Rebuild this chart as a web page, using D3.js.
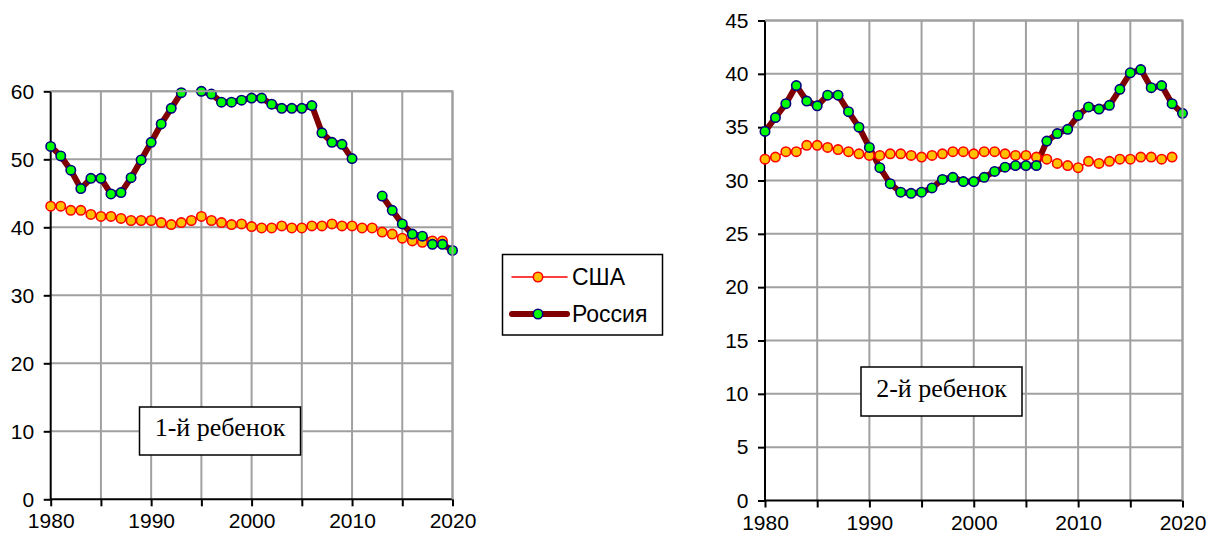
<!DOCTYPE html>
<html><head><meta charset="utf-8">
<script src="https://cdn.jsdelivr.net/npm/d3@7"></script>
<style>body{margin:0;background:#fff;}svg{display:block;}</style>
</head><body>
<svg id="c" width="1221" height="540"></svg>
<script>
const years = d3.range(1980, 2021);
// 1st child (left chart)
const usa1 = [43.1,43.1,42.5,42.5,41.9,41.6,41.6,41.3,41.0,41.0,41.0,40.7,40.4,40.7,41.0,41.6,41.0,40.7,40.4,40.5,40.1,39.9,39.9,40.2,39.9,39.9,40.2,40.2,40.5,40.2,40.2,39.9,39.9,39.3,39.0,38.4,38.0,37.8,38.0,38.0,null];
const rus1 = [51.9,50.5,48.4,45.7,47.2,47.2,44.9,45.1,47.3,49.9,52.5,55.2,57.5,59.8,61.0,60.0,59.6,58.4,58.4,58.7,59.0,59.0,58.1,57.5,57.5,57.5,57.9,53.9,52.5,52.2,50.1,null,null,44.6,42.5,40.5,39.0,38.7,37.5,37.5,36.6];
// 2nd child (right chart)
const usa2 = [32.0,32.2,32.7,32.7,33.3,33.3,33.1,32.9,32.7,32.5,32.35,32.35,32.5,32.5,32.35,32.2,32.35,32.5,32.7,32.7,32.5,32.7,32.7,32.5,32.35,32.35,32.2,32.0,31.6,31.4,31.2,31.8,31.6,31.8,32.0,32.0,32.2,32.2,32.0,32.2,null];
const rus2 = [34.6,35.9,37.2,38.9,37.45,37.0,38.0,38.0,36.45,35.0,33.1,31.2,29.7,28.9,28.8,28.9,29.3,30.1,30.3,29.9,29.9,30.3,30.85,31.25,31.4,31.4,31.4,33.7,34.4,34.8,36.1,36.9,36.7,37.05,38.55,40.1,40.4,38.7,38.9,37.2,36.3];
const yTicks1 = [0,10,20,30,40,50,60];
const yTicks2 = [0,5,10,15,20,25,30,35,40,45];
const xTicks = [1980,1985,1990,1995,2000,2005,2010,2015,2020];
const xLabels = [1980,1990,2000,2010,2020];
const seriesNames = ["США","Россия"];
const boxLabels = ["1-й ребенок","2-й ребенок"];

const svg = d3.select("#c");
const FONT = "Liberation Sans, Arial, sans-serif";
const SERIF = "Liberation Serif, Times New Roman, serif";
const MR = 4.7;

function chart(id, x0, x1, y0, y1, ymax, yTicks, usa, rus, label, lbox) {
  const x = d3.scaleLinear().domain([1980, 2020]).range([x0, x1]);
  const y = d3.scaleLinear().domain([0, ymax]).range([y0, y1]);
  const g = svg.append("g");
  // grid
  g.selectAll(".gv").data(xTicks.slice(1)).join("line")
    .attr("x1", d => x(d)).attr("x2", d => x(d)).attr("y1", y0).attr("y2", y1)
    .attr("stroke", "#a0a0a0").attr("stroke-width", 2);
  g.selectAll(".gh").data(yTicks.slice(1)).join("line")
    .attr("x1", x0).attr("x2", x1).attr("y1", d => y(d)).attr("y2", d => y(d))
    .attr("stroke", "#a0a0a0").attr("stroke-width", 2);
  // axes
  const ax = g.append("g").attr("transform", `translate(0,${y0})`)
    .call(d3.axisBottom(x).tickValues(xTicks).tickSize(7).tickFormat(d => xLabels.includes(d) ? d : ""));
  const ay = g.append("g").attr("transform", `translate(${x0},0)`)
    .call(d3.axisLeft(y).tickValues(yTicks).tickSize(7).tickFormat(d3.format("d")));
  [ax, ay].forEach(a => {
    a.select(".domain").attr("stroke", "#000").attr("stroke-width", 2);
    a.selectAll(".tick line").attr("stroke", "#000").attr("stroke-width", 2);
    a.selectAll("text").attr("font-family", FONT).attr("font-size", 21).attr("fill", "#000");
  });
  ax.selectAll("text").attr("dy", 0).attr("y", 29);
  ay.selectAll("text").attr("x", -16.5);
  ay.select(".domain").attr("d", `M0,${y0}V${y1}`);
  ax.select(".domain").attr("d", `M${x0},0H${x1}`);
  svg.append("clipPath").attr("id", "clip" + id + "l").append("rect")
    .attr("x", x0).attr("y", y1).attr("width", x1 - x0).attr("height", y0 - y1);
  const lineGen = d3.line().defined(d => d.v != null).x(d => x(d.yr)).y(d => y(d.v));
  const du = years.map((yr, i) => ({yr, v: usa[i]}));
  const dr = years.map((yr, i) => ({yr, v: rus[i]}));
  const inner = g.append("g");
  inner.append("path").datum(dr).attr("d", lineGen).attr("fill", "none")
    .attr("stroke", "#800000").attr("stroke-width", 6).attr("stroke-linejoin", "round")
    .attr("clip-path", `url(#clip${id}l)`);
  inner.append("path").datum(du).attr("d", lineGen).attr("fill", "none")
    .attr("stroke", "#ff0000").attr("stroke-width", 1.5)
    .attr("clip-path", `url(#clip${id}l)`);
  inner.selectAll(".mu").data(du.filter(d => d.v != null && d.v <= ymax)).join("circle")
    .attr("cx", d => x(d.yr)).attr("cy", d => y(d.v)).attr("r", MR)
    .attr("fill", "#ffc000").attr("stroke", "#ff0000").attr("stroke-width", 1.6);
  inner.selectAll(".mr").data(dr.filter(d => d.v != null && d.v <= ymax)).join("circle")
    .attr("cx", d => x(d.yr)).attr("cy", d => y(d.v)).attr("r", MR)
    .attr("fill", "#00ff00").attr("stroke", "#000080").attr("stroke-width", 1.6);
  // plot border top/right
  g.append("path").attr("d", `M${x0},${y1}H${x1}V${y0}`).attr("fill", "none")
    .attr("stroke", "#a0a0a0").attr("stroke-width", 2);
  // label box
  g.append("rect").attr("x", lbox[0]).attr("y", lbox[1]).attr("width", lbox[2]).attr("height", lbox[3])
    .attr("fill", "#fff").attr("stroke", "#000").attr("stroke-width", 1.5);
  g.append("text").attr("x", lbox[0] + lbox[2] / 2).attr("y", lbox[1] + lbox[3] / 2 + 5)
    .attr("text-anchor", "middle").attr("font-family", SERIF).attr("font-size", 26).text(label);
}

chart(1, 50.7, 452.5, 499.3, 91.3, 60, yTicks1, usa1, rus1, boxLabels[0], [139.5, 407, 161, 48]);
chart(2, 765, 1182.5, 500.5, 20.5, 45, yTicks2, usa2, rus2, boxLabels[1], [861, 367, 161, 49]);

// legend
const lg = svg.append("g");
lg.append("rect").attr("x", 502.5).attr("y", 254.5).attr("width", 160).attr("height", 80.5)
  .attr("fill", "#fff").attr("stroke", "#000").attr("stroke-width", 1.5);
const legItems = [
  {name: seriesNames[0], y: 277, stroke: "#ff0000", w: 1.5, fill: "#ffc000", ms: "#ff0000"},
  {name: seriesNames[1], y: 314, stroke: "#800000", w: 6, fill: "#00ff00", ms: "#000080"}
];
legItems.forEach(it => {
  lg.append("line").attr("x1", 512).attr("x2", 567).attr("y1", it.y).attr("y2", it.y)
    .attr("stroke", it.stroke).attr("stroke-width", it.w).attr("stroke-linecap", "round");
  lg.append("circle").attr("cx", 538).attr("cy", it.y).attr("r", MR)
    .attr("fill", it.fill).attr("stroke", it.ms).attr("stroke-width", 1.6);
  lg.append("text").attr("x", 572).attr("y", it.y + 8).attr("font-family", FONT).attr("font-size", 23).text(it.name);
});
</script>
</body></html>
